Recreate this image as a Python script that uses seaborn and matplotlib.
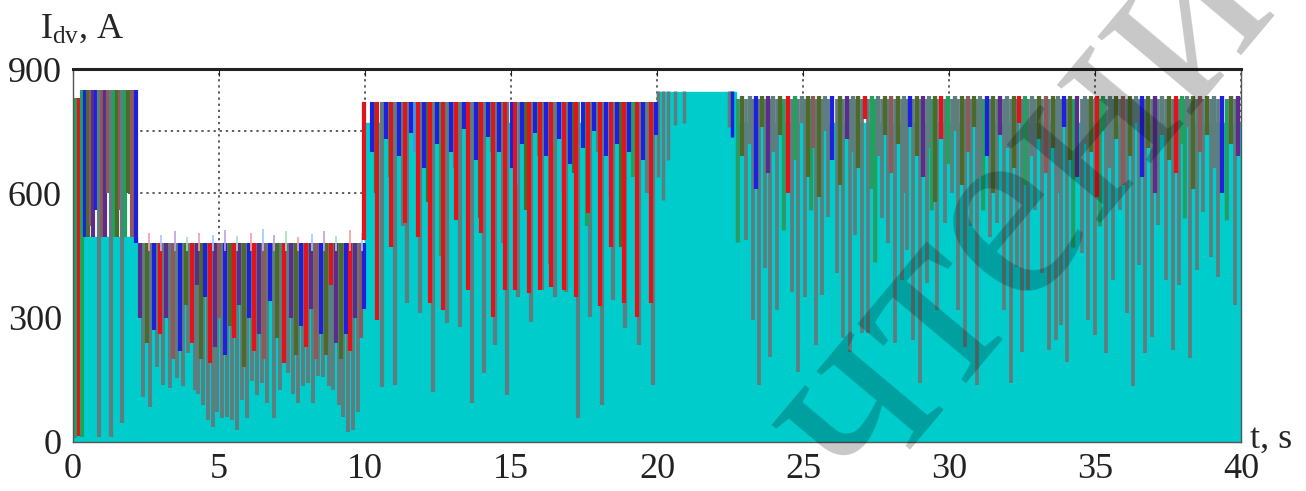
import matplotlib
matplotlib.use("Agg")
import matplotlib.pyplot as plt
import seaborn as sns
import pandas as pd
from itertools import cycle

# ---- data (t in s, current in A) ----
# start-up block, 0 .. 2.2 s
A_t = [0.08, 0.20, 0.31, 0.40, 0.50, 0.60, 0.70, 0.80, 0.90, 1.00, 1.10,
       1.20, 1.30, 1.40, 1.50, 1.60, 1.68, 1.78, 1.90, 2.02, 2.15]
A_low = [10, 15, 12, 495, 495, 520, 495, 560, 12, 495, 495,
         600, 12, 495, 495, 560, 45, 495, 600, 495, 480]
A_col = "erebonpbgnpngeongeonb"

# 2.2 .. 10 s, long dips
B_gray_t = [2.41, 2.64, 2.87, 3.09, 3.32, 3.55, 3.78, 3.95, 4.18, 4.29, 4.46,
            4.61, 4.80, 4.94, 5.09, 5.29, 5.43, 5.61, 5.78, 5.95, 6.12, 6.29,
            6.46, 6.63, 6.88, 7.09, 7.37, 7.54, 7.72, 7.89, 8.06, 8.23, 8.40,
            8.57, 8.78, 8.91, 9.12, 9.26, 9.43, 9.58, 9.77]
B_gray_low = [109, 85, 182, 138, 130, 154, 134, 214, 125, 117, 89,
              53, 37, 73, 57, 61, 53, 29, 101, 57, 146, 113,
              142, 93, 57, 125, 166, 117, 93, 134, 142, 93, 160,
              158, 134, 125, 89, 61, 25, 29, 73]
# 2.2 .. 10 s, shorter coloured dips
B_col_t = [2.30, 2.52, 2.76, 2.98, 3.20, 3.43, 3.66, 3.86, 4.06, 4.23, 4.37,
           4.53, 4.70, 4.87, 5.01, 5.19, 5.36, 5.52, 5.69, 5.86, 6.03, 6.20,
           6.37, 6.54, 6.75, 6.98, 7.23, 7.45, 7.63, 7.80, 7.97, 8.14, 8.32,
           8.48, 8.67, 8.84, 9.02, 9.19, 9.35, 9.50, 9.67, 9.85, 9.95]
B_col_low = [300, 240, 270, 260, 300, 200, 220, 330, 240, 380, 200,
             350, 190, 230, 300, 210, 280, 250, 330, 180, 300, 220,
             260, 200, 340, 250, 190, 300, 210, 280, 230, 320, 200,
             260, 210, 380, 240, 200, 260, 220, 300, 250, 320]
B_fuzz_t = [2.6, 3.0, 3.5, 3.9, 4.3, 4.8, 5.2, 5.6, 6.1, 6.5, 6.9, 7.3,
            7.7, 8.2, 8.6, 9.0, 9.5, 9.9]
B_fuzz_top = [505, 500, 510, 495, 505, 500, 512, 498, 505, 515, 500, 508,
              495, 502, 510, 498, 512, 505]

# 10 .. 20 s
C_gray_t = [10.57, 11.03, 11.43, 11.88, 12.33, 12.80, 13.25, 13.65, 14.08,
            14.45, 14.88, 15.24, 15.68, 16.05, 16.51, 16.88, 17.31, 17.71,
            18.11, 18.50, 18.90, 19.39, 19.85]
C_gray_low = [133, 137, 335, 311, 121, 287, 278, 94, 166, 234, 113, 350,
              290, 367, 350, 362, 58, 302, 89, 343, 275, 234, 137]
C_red_t = [10.03, 10.49, 10.97, 11.43, 11.88, 12.28, 12.74, 13.20, 13.60,
           14.05, 14.45, 14.85, 15.22, 15.68, 16.06, 16.44, 16.88, 17.31,
           17.71, 18.11, 18.50, 18.93, 19.39, 19.85]
C_red_low = [487, 294, 471, 528, 495, 335, 318, 535, 367, 504, 302, 367,
             367, 359, 367, 375, 367, 351, 552, 327, 471, 335, 302, 335]
C_blue_t = [10.25, 10.71, 11.17, 11.57, 12.02, 12.47, 12.94, 13.39, 13.79,
            14.22, 14.59, 15.02, 15.38, 15.82, 16.19, 16.65, 17.02, 17.45,
            17.85, 18.25, 18.64, 19.04, 19.53, 19.97]
C_blue_low = [700, 730, 690, 745, 660, 720, 700, 755, 680, 735, 700, 660,
              720, 745, 690, 730, 670, 710, 750, 690, 720, 700, 680, 740]
C_mix_t = [10.38, 10.85, 11.31, 11.71, 12.16, 12.61, 13.08, 13.53, 13.93,
           14.36, 14.73, 15.16, 15.52, 15.96, 16.33, 16.79, 17.16, 17.59,
           17.99, 18.39, 18.78, 19.18, 19.67]
C_mix_low = [600, 640, 520, 700, 580, 450, 660, 610, 540, 700, 480, 620,
             560, 690, 430, 600, 650, 520, 700, 590, 470, 640, 600]

# 20 .. 22.7 s, flat part
D_t = [20.05, 20.20, 20.39, 20.62, 20.92, 22.45, 22.58]
D_low = [640, 584, 680, 765, 770, 760, 735]
D_col = "ggggggb"

# 22.7 .. 40 s
E_gray_t = [22.78, 23.05, 23.28, 23.50, 23.70, 23.87, 24.10, 24.35, 24.61,
            24.84, 25.07, 25.26, 25.45, 25.66, 25.87, 26.15, 26.38, 26.61,
            26.78, 27.01, 27.24, 27.47, 27.69, 27.92, 28.15, 28.38, 28.55,
            28.78, 29.01, 29.24, 29.42, 29.60, 29.86, 30.09, 30.32, 30.55,
            30.75, 30.95, 31.18, 31.40, 31.63, 31.88, 32.11, 32.32, 32.49,
            32.72, 32.95, 33.20, 33.44, 33.66, 33.82, 34.05, 34.26, 34.54,
            34.77, 35.00, 35.17, 35.38, 35.61, 35.85, 36.09, 36.31, 36.52,
            36.71, 36.94, 37.17, 37.43, 37.66, 37.89, 38.07, 38.25, 38.48,
            38.71, 38.96, 39.20, 39.51, 39.79]
E_gray_low = [483, 487, 294, 137, 420, 206, 318, 511, 363, 170, 351, 560,
              234, 355, 544, 407, 250, 218, 500, 262, 262, 435, 540, 480,
              238, 391, 463, 246, 142, 383, 560, 318, 528, 600, 318, 230,
              520, 137, 560, 495, 528, 318, 142, 423, 218, 367, 560, 407,
              222, 246, 282, 194, 471, 455, 294, 258, 520, 214, 391, 560,
              311, 134, 427, 214, 254, 524, 391, 222, 379, 540, 202, 415,
              556, 447, 399, 536, 331]
E_green_t = [22.74, 24.33, 25.28, 27.45, 29.40, 31.16, 34.24, 35.15, 38.05, 39.49]
E_green_low = [483, 511, 560, 435, 560, 560, 471, 520, 540, 536]
E_mid_t = [22.92, 23.17, 23.39, 23.60, 23.79, 23.98, 24.22, 24.48, 24.72,
           24.95, 25.16, 25.35, 25.55, 25.76, 26.01, 26.26, 26.49, 26.70,
           26.90, 27.12, 27.35, 27.58, 27.80, 28.03, 28.26, 28.46, 28.66,
           28.90, 29.12, 29.33, 29.51, 29.73, 29.97, 30.20, 30.43, 30.65,
           30.85, 31.06, 31.29, 31.51, 31.75, 32.00, 32.21, 32.40, 32.60,
           32.83, 33.08, 33.32, 33.55, 33.74, 33.94, 34.15, 34.40, 34.65,
           34.88, 35.08, 35.27, 35.50, 35.73, 35.97, 36.20, 36.41, 36.61,
           36.82, 37.05, 37.30, 37.54, 37.77, 37.98, 38.16, 38.36, 38.60,
           38.83, 39.08, 39.35, 39.65, 39.90]
E_mid_low = [690, 720, 610, 760, 650, 700, 740, 600, 680, 770,
             640, 710, 590, 750, 680, 620, 730, 700, 660, 780,
             610, 690, 740, 650, 720, 600, 760, 690, 640, 710,
             580, 730, 670, 750, 620, 700, 760, 640, 690, 600,
             740, 710, 660, 770, 620, 690, 730, 650, 710, 600,
             760, 680, 640, 720, 700, 590, 750, 660, 730, 620,
             690, 770, 640, 710, 600, 740, 680, 650, 720, 760,
             610, 700, 740, 660, 600, 720, 690]

# level of each regime and of the cyan trace underneath
level_t = [0.05, 2.2, 10.0, 20.0, 22.7, 40.0]
cyan_level = [495, 470, 770, 845, 770, 770]
top_A, top_B, top_C, top_D, top_E = 850, 480, 820, 848, 828

# ---- styling ----
pal = {
    "g": "#5e7d7e", "r": "#e3131b", "b": "#1f1fe0", "o": "#4d6a2b",
    "e": "#22a15e", "p": "#5c2b8e", "n": "#8b5a5a", "l": "#3d9ae0",
}
cyan = "#00cccc"

sns.set_style("white")
plt.rcParams["font.family"] = ["Liberation Serif", "DejaVu Serif"]
plt.rcParams["mathtext.fontset"] = "custom"
plt.rcParams["mathtext.rm"] = "Liberation Serif"

fig = plt.figure(figsize=(13.06, 4.91), dpi=100)
ax = fig.add_axes([73 / 1306, 49 / 491, 1168 / 1306, 373 / 491])

# cyan trace (fills everything under it)
cyan_df = pd.DataFrame({"t": level_t, "I": cyan_level})
ax.fill_between(cyan_df["t"], 0, cyan_df["I"], step="post", color=cyan,
                lw=0, zorder=1)
sns.lineplot(data=cyan_df, x="t", y="I", drawstyle="steps-post", color=cyan,
             lw=1, ax=ax, zorder=1)


def dips(t, low, top, colors, width=2.5, z=2):
    ax.vlines(t, low, top, colors=colors, lw=width, zorder=z)


# start-up
dips(A_t, A_low, [830, 830] + [top_A] * (len(A_t) - 2),
     [pal[c] for c in A_col], width=3.0)

# 2.2 .. 10 s
dips(B_gray_t, B_gray_low, top_B, pal["g"], width=2.8)
bcyc = cycle(["p", "o", "b", "r", "p", "n", "b", "o", "r"])
dips(B_col_t, B_col_low, top_B, [pal[next(bcyc)] for _ in B_col_t], width=3.0, z=3)
fcyc = cycle(["#f4a0a0", "#9fc8ff", "#c0a0e0", "#a0e0c0"])
dips(B_fuzz_t, top_B - 20, B_fuzz_top, [next(fcyc) for _ in B_fuzz_t],
     width=1.2, z=3)

# 10 .. 20 s
dips(C_gray_t, C_gray_low, top_C, pal["g"], width=3.0)
ccyc = cycle(["o", "e", "g", "l"])
dips(C_mix_t, C_mix_low, top_C, [pal[next(ccyc)] for _ in C_mix_t], width=3.0, z=3)
dips(C_blue_t, C_blue_low, top_C, pal["b"], width=3.0, z=3)
dips([x - 0.07 for x in C_red_t], C_red_low, top_C, pal["r"], width=3.0, z=4)

# flat part
dips(D_t, D_low, top_D, [pal[c] for c in D_col])

# 22.7 .. 40 s
dips(E_gray_t, E_gray_low, top_E, pal["g"], width=2.7)
dips(E_green_t, E_green_low, top_E, pal["e"], z=3)
ecyc = cycle(["o", "g", "b", "o", "p", "g", "o", "r", "e", "g", "o", "n"])
dips(E_mid_t, E_mid_low, top_E + 8, [pal[next(ecyc)] for _ in E_mid_t],
     width=3.1, z=3)

# ---- axes ----
ax.set_xlim(0, 40)
ax.set_ylim(0, 900)
ax.set_xticks(range(0, 41, 5))
ax.set_yticks(range(0, 901, 150))
ax.set_yticklabels([str(v) if v % 300 == 0 else "" for v in range(0, 901, 150)])
ax.tick_params(direction="in", length=5, top=True, right=True, labelsize=26,
               colors="#222222", pad=8)
ax.set_axisbelow(True)
ax.grid(True, ls=(0, (1.5, 2.5)), color="#333333", lw=1.1)
for s in ax.spines.values():
    s.set_color("#555555")
    s.set_linewidth(1.0)
ax.spines["top"].set_linewidth(2.2)
ax.spines["top"].set_color("#222222")
ax.spines["top"].set_linestyle((0, (1.2, 0.8)))
ax.set_xlabel("")
ax.set_ylabel("")

fig.text(40 / 1306, 1 - 38 / 491, r"$\mathrm{I_{dv}}$, A", fontsize=26,
         ha="left", va="baseline")
fig.text(1250 / 1306, 1 - 448 / 491, "t, s", fontsize=26, ha="left",
         va="baseline")

# watermark
fig.text(862 / 1306, 1 - 503 / 491, "чтение", fontsize=190, color="black",
         alpha=0.22, rotation=50, rotation_mode="anchor",
         ha="left", va="baseline", zorder=10)

fig.savefig("out.png", dpi=100)
